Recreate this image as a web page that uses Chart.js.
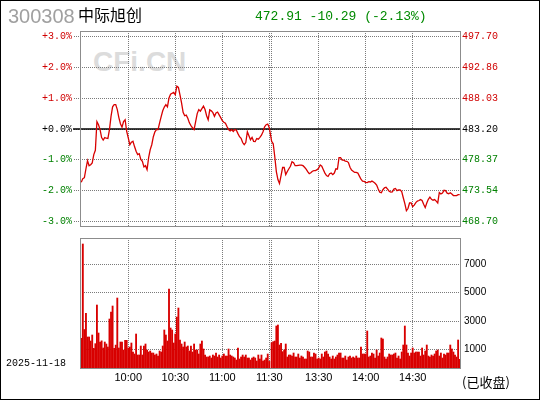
<!DOCTYPE html>
<html><head><meta charset="utf-8">
<script src="https://cdn.jsdelivr.net/npm/chart.js@4.4.1/dist/chart.umd.min.js"></script>
<style>
html,body{margin:0;padding:0;background:#fff;}
#wrap{position:relative;width:540px;height:400px;overflow:hidden;background:#fff;}
#wrap canvas{position:absolute;left:0;top:0;}
.t{position:absolute;white-space:nowrap;}
#frame{position:absolute;left:0;top:0;width:538px;height:398px;border:1px solid #000;}
</style></head><body>
<div id="wrap">
<div class="t" id="wm" style="left:93px;top:48px;font:bold 28px 'Liberation Sans';line-height:28px;color:#dcdcdc;">CFi.CN</div>
<canvas id="c1" width="540" height="400"></canvas>
<canvas id="c2" width="540" height="400"></canvas>
<div class="t" id="code" style="left:8px;top:6px;font:20px 'Liberation Sans';line-height:20px;color:#a0a0a0;"></div>
<div class="t" id="name" style="left:78px;top:6px;font:16px 'Noto Sans CJK SC';line-height:16px;color:#000;"></div>
<div class="t" id="quote" style="left:255px;top:10px;font:13px 'Liberation Mono';line-height:13px;color:#008a00;"></div>
<div class="t" id="date" style="left:6px;top:359px;font:10px 'Liberation Mono';line-height:10px;color:#000;"></div>
<div class="t" id="closed" style="left:462px;top:375px;font:13px 'Noto Sans CJK SC';line-height:13px;color:#000;"></div>
<div id="frame"></div>
</div>
<script>
const stockCode = '300308';
const stockName = '中际旭创';
const tradeDate = '2025-11-18';
const statusText = '(已收盘)';
const preClose = 483.20;
const lastPrice = 472.91;
const change = -10.29;
const changePct = -2.13;

// percent change vs previous close, one value per minute
const amPct = [-1.73,-1.61,-1.58,-1.29,-1.03,-1.19,-1.16,-1.10,-0.83,-0.69,
 0.24,0.14,-0.02,-0.28,-0.36,-0.28,-0.30,-0.31,-0.02,0.41,
 0.72,0.79,0.79,0.63,0.37,0.17,0.06,0.24,0.30,-0.08,
 -0.29,-0.51,-0.43,-0.40,-0.57,-0.72,-0.83,-0.80,-0.99,-1.05,
 -1.23,-1.19,-1.32,-0.93,-0.67,-0.51,-0.25,-0.09,-0.02,-0.02,
 0.20,0.40,0.59,0.71,0.79,0.72,1.01,1.13,1.16,1.19,
 1.11,1.39,1.35,1.11,0.85,0.54,0.43,0.45,0.35,0.20,
 0.11,0.04,-0.02,0.24,0.50,0.63,0.58,0.66,0.74,0.63,
 0.43,0.30,0.62,0.59,0.53,0.41,0.52,0.55,0.46,0.37,
 0.27,0.22,0.19,0.08,-0.02,-0.06,-0.02,-0.08,-0.02,-0.04,
 -0.15,-0.25,-0.30,-0.44,-0.51,-0.44,-0.09,-0.22,-0.35,-0.27,
 -0.40,-0.41,-0.31,-0.33,-0.27,-0.20,-0.09,0.07,0.14,0.16,
 0.04];
const pmPct = [-0.40,-0.48,-0.90,-1.38,-1.64,-1.77,-1.51,-1.25,-1.25,-1.48,
 -1.38,-1.29,-1.21,-1.06,-1.09,-1.19,-1.19,-1.18,-1.17,-1.17,
 -1.19,-1.24,-1.30,-1.38,-1.45,-1.42,-1.37,-1.35,-1.35,-1.32,
 -1.27,-1.17,-1.21,-1.32,-1.43,-1.51,-1.54,-1.45,-1.43,-1.48,
 -1.43,-1.29,-1.30,-0.93,-0.93,-1.01,-1.01,-1.04,-1.05,-1.09,
 -1.24,-1.33,-1.37,-1.41,-1.41,-1.43,-1.53,-1.63,-1.69,-1.70,
 -1.73,-1.74,-1.71,-1.72,-1.69,-1.72,-1.76,-1.82,-1.95,-2.05,
 -2.07,-1.97,-1.91,-1.89,-1.95,-2.02,-2.05,-2.04,-1.95,-1.93,
 -2.00,-1.98,-1.98,-2.03,-2.23,-2.42,-2.65,-2.58,-2.40,-2.40,
 -2.52,-2.47,-2.39,-2.34,-2.32,-2.29,-2.32,-2.44,-2.55,-2.40,
 -2.28,-2.21,-2.28,-2.31,-2.29,-2.34,-2.40,-2.06,-2.11,-2.08,
 -1.99,-2.00,-2.08,-2.10,-2.07,-2.11,-2.16,-2.16,-2.16,-2.13,
 -2.13];

// volume per minute
const amVol = [1777,8436,2400,3541,1871,1871,1588,2012,1071,1400,
 4129,2153,1518,1600,1094,1518,1377,1165,3141,3635,
 4059,1071,1300,4623,1094,1518,1518,953,1635,1635,
 1094,1165,1447,812,671,2082,600,600,1235,600,
 1235,1377,953,812,882,741,741,600,671,529,
 882,812,1235,2365,2012,1588,5259,2506,2365,1447,
 2082,3282,3918,1659,1377,1165,1518,1165,1235,882,
 1235,812,1377,953,953,671,1377,1588,1024,600,
 459,459,529,388,600,529,741,459,600,388,
 529,671,529,529,1024,600,529,459,388,247,
 1094,318,459,600,459,600,388,388,247,388,
 459,388,176,600,318,600,176,247,388,671,
 150];
const pmVol = [1471,1541,1588,2647,2718,1306,1424,835,953,1377,
 459,600,600,529,741,459,459,671,388,529,
 459,318,318,882,812,459,459,741,671,318,
 388,318,671,459,812,882,671,459,318,529,
 318,460,600,741,741,388,388,529,247,459,
 529,388,459,388,529,388,388,1165,671,671,
 671,2294,459,529,741,671,388,953,529,741,
 1800,1729,459,318,459,671,600,600,671,741,
 388,529,318,812,1306,2647,1306,741,529,741,
 1094,741,812,812,812,529,1094,600,882,1306,
 529,459,600,529,671,882,953,529,741,388,
 671,600,741,741,1306,1024,812,600,459,1659,
 300];

const pctTicks = [-3,-2,-1,0,1,2,3];
const volTicks = [1000,3000,5000,7000];
const timeTicks = ['10:00','10:30','11:00','11:30','13:00','13:30','14:00','14:30'];
const hiddenTimeLabels = ['13:00'];

// ---- helpers ----
const PM_START = 121.5; // slot index of 13:00 (small break gap after 11:30)
function timeToSlot(t){
  const [h,m] = t.split(':').map(Number);
  const mins = h*60+m;
  if (mins <= 11*60+30) return mins - (9*60+30);
  return PM_START + mins - 13*60;
}
const X_MIN = -0.8, X_MAX = 241.7;
const PCT_LIM = 3.18;
const VOL_MIN = -388, VOL_MAX = 8860;
const RED = '#d80000', LRED = '#d00000', LGREEN = '#008000';
const GRID = '#7a7a7a';

document.getElementById('code').textContent = stockCode;
document.getElementById('name').textContent = stockName;
document.getElementById('quote').textContent = lastPrice.toFixed(2)+' '+change.toFixed(2)+' ('+changePct.toFixed(2)+'%)';
document.getElementById('date').textContent = tradeDate;
document.getElementById('closed').textContent = statusText;

const pricePts = amPct.map((v,i)=>({x:i,y:v})).concat(pmPct.map((v,j)=>({x:PM_START+j,y:v})));
const volPts = amVol.map((v,i)=>({x:i,y:v})).concat(pmVol.map((v,j)=>({x:PM_START+j,y:v})));
const timeSlots = timeTicks.map(timeToSlot);

const framePlugin = {
  id:'frameBox',
  afterDraw(c){
    const a=c.chartArea, ctx=c.ctx;
    ctx.save();
    ctx.strokeStyle='#8c8c8c'; ctx.lineWidth=1;
    ctx.strokeRect(Math.round(a.left)+0.5, Math.round(a.top)+0.5, Math.round(a.right-a.left), Math.round(a.bottom-a.top)-1);
    ctx.restore();
  }
};
const zeroLinePlugin = {
  id:'zeroLine',
  beforeDatasetsDraw(c){
    const a=c.chartArea, ctx=c.ctx, y=c.scales.y.getPixelForValue(0);
    ctx.save();
    ctx.strokeStyle='#000'; ctx.lineWidth=1.5;
    ctx.beginPath(); ctx.moveTo(a.left-7, y); ctx.lineTo(a.right, y); ctx.stroke();
    ctx.restore();
  }
};
const sideColor = v => v>0 ? LRED : (v<0 ? LGREEN : '#000');
function xScale(extra){
  return Object.assign({
    type:'linear', min:X_MIN, max:X_MAX, offset:false,
    afterBuildTicks(s){ s.ticks = timeSlots.map(v=>({value:v})); },
    grid:{color:GRID, lineWidth:1, drawTicks:false, offset:false},
    border:{display:false, dash:[1,1]}
  }, extra);
}

new Chart(document.getElementById('c1'), {
  type:'line',
  data:{datasets:[{data:pricePts, borderColor:RED, borderWidth:1.3, pointRadius:0, tension:0, fill:false}]},
  options:{
    responsive:false, animation:false, events:[],
    layout:{padding:{top:31,bottom:173,left:0,right:0}},
    plugins:{legend:{display:false}, tooltip:{enabled:false}},
    scales:{
      x:xScale({ticks:{display:false}, afterFit(s){s.height=0;}}),
      y:{
        position:'left', min:-PCT_LIM, max:PCT_LIM,
        afterBuildTicks(s){ s.ticks = pctTicks.map(v=>({value:v})); },
        afterFit(s){ s.width = 80; },
        grid:{color:GRID, lineWidth:1, drawTicks:true, tickLength:6, tickColor:GRID, tickBorderDash:[1,1]},
        border:{display:false, dash:[1,1]},
        ticks:{padding:2, font:{family:'Liberation Mono', size:10},
          color:c=>sideColor(c.tick.value),
          callback:v=>(v>=0?'+':'')+v.toFixed(1)+'%'}
      },
      y2:{
        position:'right', min:-PCT_LIM, max:PCT_LIM,
        afterBuildTicks(s){ s.ticks = pctTicks.map(v=>({value:v})); },
        afterFit(s){ s.width = 80; },
        grid:{drawOnChartArea:false, drawTicks:false},
        border:{display:false},
        ticks:{padding:2, font:{family:'Liberation Mono', size:10},
          color:c=>sideColor(c.tick.value),
          callback:v=>(preClose*(1+v/100)).toFixed(2)}
      }
    }
  },
  plugins:[zeroLinePlugin, framePlugin]
});

new Chart(document.getElementById('c2'), {
  type:'bar',
  data:{datasets:[{data:volPts, backgroundColor:RED, borderWidth:0, barThickness:1.2, base:VOL_MIN}]},
  options:{
    responsive:false, animation:false, events:[],
    layout:{padding:{top:238,bottom:11,left:80,right:0}},
    plugins:{legend:{display:false}, tooltip:{enabled:false}},
    scales:{
      x:xScale({
        afterFit(s){s.height=20;},
        ticks:{autoSkip:false, maxRotation:0, minRotation:0, padding:2, color:'#000',
          font:{family:'Liberation Sans', size:11},
          callback:(v,i)=>{const t=timeTicks[i]; return hiddenTimeLabels.includes(t)?'':t;}}
      }),
      y:{
        position:'right', min:VOL_MIN, max:VOL_MAX,
        afterBuildTicks(s){ s.ticks = volTicks.map(v=>({value:v})); },
        afterFit(s){ s.width = 80; },
        grid:{color:GRID, lineWidth:1, drawTicks:false},
        border:{display:false, dash:[1,1]},
        ticks:{padding:4, color:'#000', font:{family:'Liberation Sans', size:10}, callback:v=>String(v)}
      }
    }
  },
  plugins:[framePlugin]
});
</script>
</body></html>
